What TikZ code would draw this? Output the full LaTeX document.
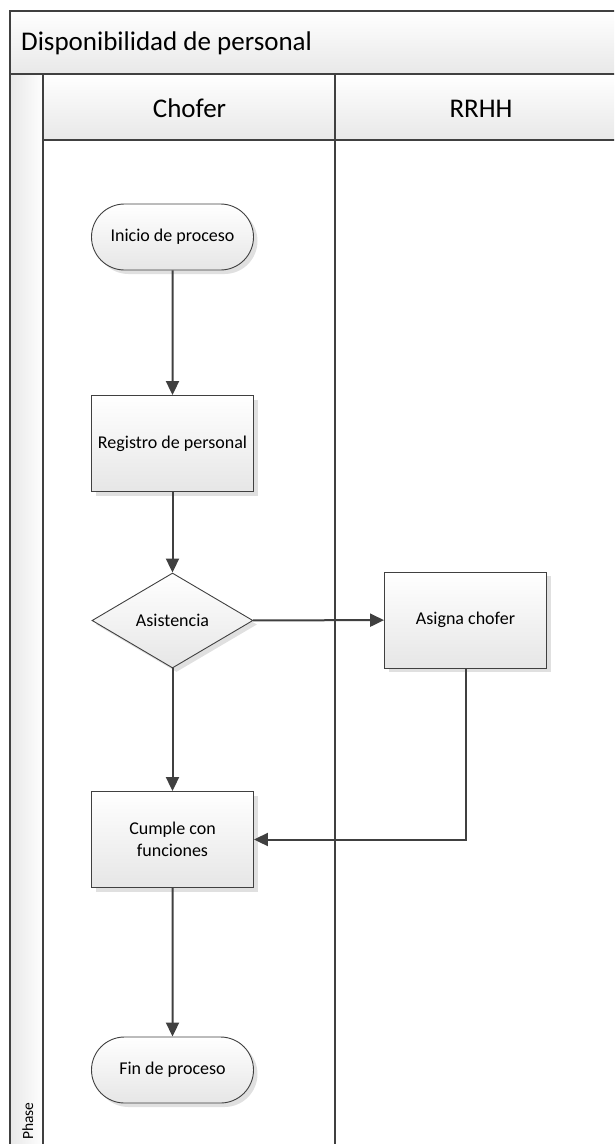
\documentclass[tikz,border=0pt]{standalone}
\usepackage{fontspec}
\setmainfont{Carlito}
\usetikzlibrary{shapes.geometric,shapes.misc,shadows,arrows.meta}
\definecolor{edge}{HTML}{404040}
\definecolor{barlo}{HTML}{E8E8E8}
\definecolor{nodelo}{HTML}{E6E6E6}
\tikzset{
  base/.style={draw=edge, line width=0.9pt, top color=white, bottom color=nodelo,
    drop shadow={shadow xshift=4pt, shadow yshift=-4pt, fill=black!12, opacity=1},
    font=\fontsize{18}{22}\selectfont, align=center, inner sep=0pt},
  terminal/.style={base, rounded rectangle, minimum width=162pt, minimum height=66pt},
  process/.style={base, rectangle, minimum width=162pt, minimum height=96pt},
  decision/.style={base, diamond, aspect=1.7, minimum width=161pt, minimum height=95pt},
  flow/.style={draw=edge, line width=2pt, -{Triangle[length=14pt,width=13pt]}},
  pool/.style={draw=edge, line width=1.6pt},
  headtext/.style={font=\fontsize{27}{32}\selectfont, anchor=base, inner sep=0pt},
}
\begin{document}
\begin{tikzpicture}[x=1pt,y=-1pt]
\useasboundingbox (0,0) rectangle (614,1144);
\begin{scope}
\clip (0,0) rectangle (614,1144);
% pool title bar
\shade[top color=white, bottom color=barlo] (10,11) rectangle (630,74);
% lane header row and phase column
\shade[top color=white, bottom color=barlo] (43,74) rectangle (630,140);
\shade[left color=barlo, right color=white!95!barlo] (10,74) rectangle (43,1150);
\draw[pool] (10,1150) -- (10,11) -- (630,11);
\draw[pool] (10,74) -- (630,74);
\draw[pool] (43,140) -- (630,140);
\draw[pool] (43,74) -- (43,1150);
\draw[pool] (335,74) -- (335,1150);
\node[anchor=base west, inner sep=0pt, font=\fontsize{27}{32}\selectfont] (title) at (21,50) {Disponibilidad de personal};
\node[headtext] (chofer) at (189.5,117) {Chofer};
\node[headtext] (rrhh) at (481,117) {RRHH};
\node[rotate=90, anchor=base west, inner sep=0pt, font=\fontsize{15.5}{18}\selectfont] (phase) at (33,1140) {Phase};
\end{scope}

% flow nodes
\node[terminal] (inicio) at (172.5,237) {Inicio de proceso};
\node[process] (registro) at (172.5,443.5) {Registro de personal};
\node[decision] (asist) at (172.5,620.5) {Asistencia};
\node[process] (asigna) at (465.5,620) {Asigna chofer};
\node[process] (cumple) at (172.5,839.5) {Cumple con\\funciones};
\node[terminal] (fin) at (172.5,1070) {Fin de proceso};

% connectors
\draw[flow] (inicio) -- (registro);
\draw[flow] (registro) -- (asist);
\draw[flow] (asist) -- (asigna);
\draw[flow] (asist) -- (cumple);
\draw[flow] (asigna.south) |- (cumple.east);
\draw[flow] (cumple) -- (fin);
\end{tikzpicture}
\end{document}
